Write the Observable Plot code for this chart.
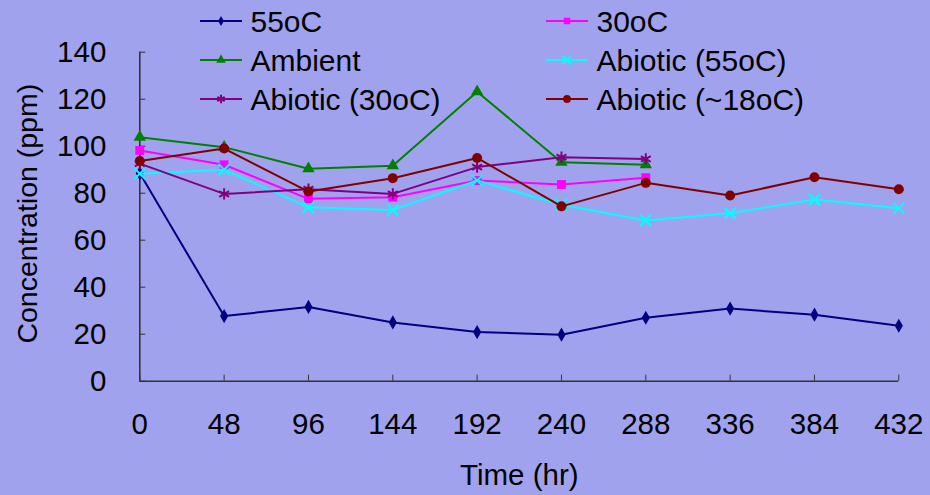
<!DOCTYPE html>
<html>
<head>
<meta charset="utf-8">
<script src="https://cdn.jsdelivr.net/npm/d3@7"></script>
<script src="https://cdn.jsdelivr.net/npm/@observablehq/plot@0.6"></script>
<style>
  html, body { margin: 0; padding: 0; background: #a0a2ee; }
  #wrap { position: relative; width: 930px; height: 495px; background: #a0a2ee; overflow: hidden; }
  #legend { position: absolute; left: 0; top: 0; }
  text { font-family: "Liberation Sans", Arial, sans-serif; }
</style>
</head>
<body>
<div id="wrap"></div>
<script>
// ---- Data ----
const hours = [0, 48, 96, 144, 192, 240, 288, 336, 384, 432];
const yTicks = [0, 20, 40, 60, 80, 100, 120, 140];
const seriesNames = ["55oC", "30oC", "Ambient", "Abiotic (55oC)", "Abiotic (30oC)", "Abiotic (~18oC)"];
const s55 = [88.5, 27.7, 31.6, 25.0, 20.9, 19.8, 27.0, 30.9, 28.3, 23.6];
const s30 = [98.2, 92.1, 77.6, 78.3, 85.4, 83.7, 86.6];
const sAmbient = [103.8, 99.6, 90.4, 91.7, 123.2, 93.2, 92.1];
const sAbiotic55 = [88.3, 90.0, 74.0, 72.9, 85.4, 75.1, 68.4, 71.5, 77.3, 73.6];
const sAbiotic30 = [92.6, 79.7, 81.7, 79.7, 91.1, 95.3, 94.6];
const sAbiotic18 = [93.7, 99.0, 80.7, 86.4, 95.0, 74.4, 84.4, 79.0, 86.8, 81.7];
const xLabel = "Time (hr)";
const yLabel = "Concentration (ppm)";

// ---- Styles ----
const colors = ["#000080", "#ff00ff", "#008000", "#00ffff", "#800080", "#800000"];
const symbols = ["diamond", "square", "triangle", "times", "asterisk", "circle"];
const radii = [4.3, 5.0, 4.6, 5.2, 5.4, 5.0];
const strokeOnly = [false, false, false, true, true, false];

const allValues = [s55, s30, sAmbient, sAbiotic55, sAbiotic30, sAbiotic18];
const series = allValues.map((vals, i) => vals.map((v, j) => ({name: seriesNames[i], hour: hours[j], value: v})));

const font = "Liberation Sans, Arial, sans-serif";
const marks = [
  Plot.axisY(yTicks, {tickSize: -6, tickPadding: 39.5, fontSize: 29.5, label: null, stroke: "#333"}),
  Plot.axisX(hours, {tickSize: -6, tickPadding: 38, fontSize: 29.5, label: null, stroke: "#333"}),
  Plot.ruleX([0], {stroke: "#333", strokeWidth: 1.6}),
  Plot.ruleY([0], {stroke: "#333", strokeWidth: 1.6})
];
series.forEach((data, i) => {
  marks.push(Plot.line(data, {x: "hour", y: "value", stroke: colors[i], strokeWidth: 2}));
  if (strokeOnly[i]) {
    marks.push(Plot.dot(data, {x: "hour", y: "value", symbol: symbols[i], r: radii[i], stroke: colors[i], strokeWidth: 2, fill: "none"}));
  } else {
    marks.push(Plot.dot(data, {x: "hour", y: "value", symbol: symbols[i], r: radii[i], fill: colors[i], stroke: "none"}));
  }
});
marks.push(Plot.text([xLabel], {text: d => d, frameAnchor: "bottom", dy: 94, fontSize: 29.5, lineAnchor: "middle", textAnchor: "middle", fill: "#000"}));
marks.push(Plot.text([yLabel], {text: d => d, frameAnchor: "left", dx: -111.5, dy: -3, rotate: -90, fontSize: 28.5, lineAnchor: "middle", textAnchor: "middle", fill: "#000"}));

const chart = Plot.plot({
  width: 930,
  height: 495,
  marginLeft: 139.3,
  marginRight: 31.7,
  marginTop: 51.7,
  marginBottom: 114.3,
  style: {background: "transparent", fontFamily: font, color: "#000", overflow: "visible"},
  x: {type: "linear", domain: [0, 432]},
  y: {type: "linear", domain: [0, 140]},
  marks
});
document.getElementById("wrap").appendChild(chart);

// ---- Legend (overlay) ----
const legendPos = [
  {x: 200, y: 21}, {x: 546, y: 21},
  {x: 200, y: 60}, {x: 546, y: 60},
  {x: 200, y: 99}, {x: 546, y: 99}
];
const legendSymbols = [d3.symbolDiamond, d3.symbolSquare, d3.symbolTriangle, d3.symbolTimes, d3.symbolAsterisk, d3.symbolCircle];
const legendSizes = [30, 42, 40, 50, 50, 48];
const lg = d3.select("#wrap").append("svg")
  .attr("id", "legend").attr("width", 930).attr("height", 125);
seriesNames.forEach((name, i) => {
  const p = legendPos[i];
  const g = lg.append("g").attr("transform", `translate(${p.x},${p.y})`);
  g.append("line").attr("x1", 0).attr("x2", 42).attr("y1", 0).attr("y2", 0)
    .attr("stroke", colors[i]).attr("stroke-width", 2);
  const sym = g.append("path").attr("transform", "translate(21,0)")
    .attr("d", d3.symbol(legendSymbols[i], legendSizes[i])());
  if (strokeOnly[i]) sym.attr("fill", "none").attr("stroke", colors[i]).attr("stroke-width", 2);
  else sym.attr("fill", colors[i]);
  g.append("text").attr("x", 50.5).attr("y", 0).attr("dy", "0.35em")
    .attr("font-size", 30).attr("fill", "#000").text(name);
});
</script>
</body>
</html>
